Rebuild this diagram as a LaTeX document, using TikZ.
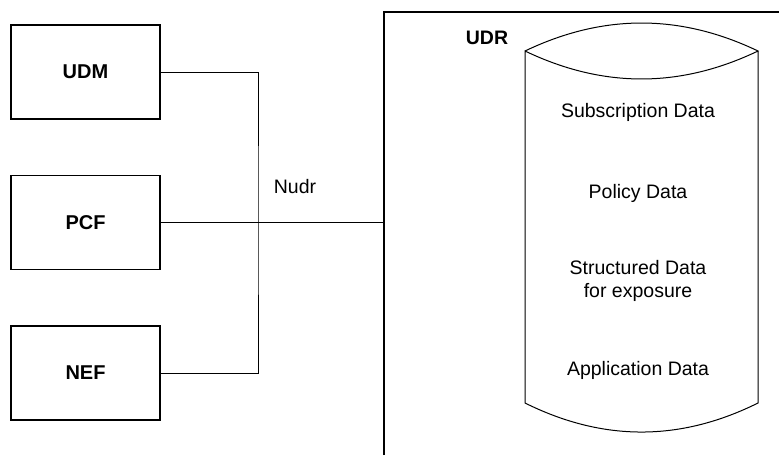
\documentclass[tikz,border=0pt]{standalone}
\usepackage{fontspec}
\setmainfont{Liberation Sans}
\usetikzlibrary{positioning}

\tikzset{
	nfbox/.style={draw, line width=0.75pt, minimum width=74.5pt, minimum height=47pt, inner sep=0pt, font=\bfseries},
	link/.style={line width=0.5pt},
	datatext/.style={align=center, inner sep=0pt}
}

\begin{document}
\begin{tikzpicture}[x=0.5pt, y=-0.5pt, node distance=27.5pt, font=\fontsize{9.75}{11.5}\selectfont]
	\useasboundingbox (0,0) rectangle (779,455);
	
	\node [nfbox] (udm) at (85.5,72) {UDM};
	\node [nfbox, below=of udm] (pcf) {PCF};
	\node [nfbox, below=of pcf] (nef) {NEF};
	
	\coordinate (bus) at (258,218);
	\coordinate (udrleft) at (384,218);
	\coordinate (udrtop) at (779,12);
	\coordinate (udrbottom) at (384,455);
	
	% UDR frame
	\draw [link, line width=0.75pt] (udrbottom) |- (udrtop);
	\node [font=\fontsize{9.75}{11.5}\selectfont\bfseries, inner sep=0pt] (udr) at (487,38) {UDR};
	
	% cylinder
	\draw [link] (525,51) .. controls (603,13.7) and (680,13.7) .. (758,51)
		.. controls (680,88.3) and (603,88.3) .. (525,51) -- (525,403)
		.. controls (603,441.7) and (680,441.7) .. (758,403) -- (758,51);
	
	\node [datatext] (sub) at (638,112) {Subscription Data};
	\node [datatext] (pol) at (638,193) {Policy Data};
	\node [datatext] (str) at (638,281) {Structured Data\\for exposure};
	\node [datatext] (app) at (638,370) {Application Data};
	
	\draw [link] (udm.east) -| (bus) |- (nef.east);
	\draw [link] (pcf.east) -- (pcf.east -| udrleft);
	\node [inner sep=0pt] (nudr) at (295,187) {Nudr};
\end{tikzpicture}
\end{document}
